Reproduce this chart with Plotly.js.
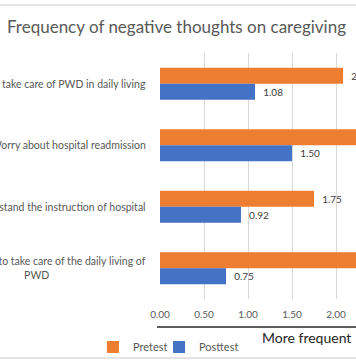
<!DOCTYPE html>
<html>
<head>
<meta charset="utf-8">
<script src="https://cdn.plot.ly/plotly-3.0.1.min.js"></script>
<style>html,body{margin:0;padding:0;background:#fff;overflow:hidden}#chart{width:356px;height:364px}</style>
</head>
<body>
<div id="chart"></div>
<script>
const categories = [
  "Difficult to take care of PWD in daily living",
  "Worry about hospital readmission",
  "Cannot understand the instruction of hospital",
  "Not know how to take care of the daily living of<br>PWD"
];
const pretest = [2.08, 2.42, 1.75, 2.33];
const posttest = [1.08, 1.50, 0.92, 0.75];
const seriesNames = ["Pretest", "Posttest"];
const xTickVals = [0, 0.5, 1, 1.5, 2];

const FONT = "Lato, 'Open Sans', sans-serif";
const traces = [
  {type:'bar', orientation:'h', name:seriesNames[0], y:categories, x:pretest, legend:'legend',
   marker:{color:'#ED7D31'}, texttemplate:'\u00a0\u00a0%{x:.2f}', textposition:'outside',
   constraintext:'none', cliponaxis:true, textfont:{size:10, color:'#404040', family:FONT}, hoverinfo:'none'},
  {type:'bar', orientation:'h', name:seriesNames[1], y:categories, x:posttest, legend:'legend2',
   marker:{color:'#4472C4'}, texttemplate:'\u00a0\u00a0%{x:.2f}', textposition:'outside',
   constraintext:'none', cliponaxis:true, textfont:{size:10, color:'#404040', family:FONT}, hoverinfo:'none'}
];

const annotations = categories.map(c => ({
  text:c, xref:'paper', yref:'y', x:-0.061, y:c, xanchor:'right', yanchor:'middle',
  align:'center', showarrow:false, font:{size:10.5, color:'#595959', family:FONT}
}));
annotations.push({text:'More frequent', xref:'paper', yref:'paper', x:0.985, y:-0.1545,
  xanchor:'right', yanchor:'middle', showarrow:false, font:{size:14, color:'#262626', family:FONT}});

const legendStyle = {orientation:'h', xanchor:'left', y:-0.195, yanchor:'middle',
    font:{size:11, color:'#595959', family:FONT}, bgcolor:'rgba(0,0,0,0)'};

const layout = {
  width:356, height:364,
  margin:{l:160, r:0, t:53, b:65, pad:0},
  paper_bgcolor:'#fff', plot_bgcolor:'#fff',
  title:{text:'Frequency of negative thoughts on caregiving', x:176.5/356, xref:'container', xanchor:'center',
    y:1-27/364, yref:'container', yanchor:'middle', font:{size:17, color:'#595959', family:FONT}},
  barmode:'group', bargap:0.48, bargroupgap:0,
  xaxis:{range:[0, 196/88], tickvals:xTickVals, tickformat:'.2f', showgrid:true, gridcolor:'#d9d9d9',
    gridwidth:1, zeroline:false, showline:false, ticks:'', ticklabelstandoff:8,
    tickfont:{size:10, color:'#595959', family:FONT}, fixedrange:true},
  yaxis:{autorange:'reversed', showticklabels:false, showgrid:false, zeroline:false, showline:false, ticks:'', fixedrange:true},
  showlegend:true,
  legend:Object.assign({x:-0.342}, legendStyle),
  legend2:Object.assign({x:-0.005}, legendStyle),
  annotations:annotations,
  shapes:[
    {type:'line', xref:'paper', yref:'paper', x0:-0.0153, x1:1.0, y0:-28/246, y1:-28/246, line:{color:'#262626', width:1.5}},
    {type:'line', xref:'paper', yref:'paper', x0:-160/196, x1:1.0, y0:1+48/246, y1:1+48/246, line:{color:'#c8c8c8', width:1}},
    {type:'line', xref:'paper', yref:'paper', x0:-160/196, x1:1.0, y0:-59/246, y1:-59/246, line:{color:'#c8c8c8', width:1}}
  ]
};
Plotly.newPlot('chart', traces, layout, {displayModeBar:false, staticPlot:true});
</script>
</body>
</html>
